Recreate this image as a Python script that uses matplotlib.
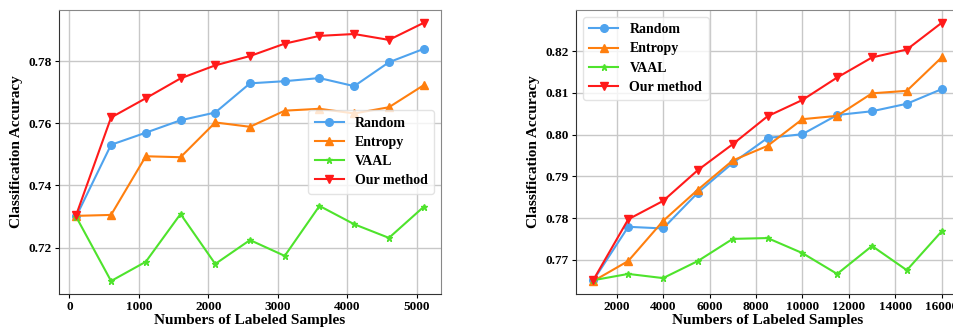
import numpy as np
import matplotlib
matplotlib.use('Agg')
import matplotlib.pyplot as plt

plt.rcParams['font.family'] = ['Liberation Serif', 'DejaVu Serif']
plt.rcParams['font.weight'] = 'bold'

# left chart data
x_left = [100, 600, 1100, 1600, 2100, 2600, 3100, 3600, 4100, 4600, 5100]
random_left = [0.7301, 0.7531, 0.7570, 0.7610, 0.7635, 0.7729, 0.7736, 0.7746, 0.7720, 0.7797, 0.7840]
entropy_left = [0.7302, 0.7305, 0.7494, 0.7491, 0.7603, 0.7589, 0.7641, 0.7647, 0.7632, 0.7652, 0.7723]
vaal_left = [0.7298, 0.7092, 0.7154, 0.7308, 0.7147, 0.7224, 0.7173, 0.7334, 0.7275, 0.7231, 0.7331]
ours_left = [0.7306, 0.7619, 0.7681, 0.7745, 0.7787, 0.7817, 0.7857, 0.7882, 0.7888, 0.7869, 0.7924]

# right chart data
x_right = [1000, 2500, 4000, 5500, 7000, 8500, 10000, 11500, 13000, 14500, 16000]
random_right = [0.7651, 0.7779, 0.7775, 0.7861, 0.7932, 0.7992, 0.8001, 0.8047, 0.8056, 0.8074, 0.8109]
entropy_right = [0.7649, 0.7697, 0.7793, 0.7868, 0.7938, 0.7973, 0.8037, 0.8045, 0.8099, 0.8105, 0.8185]
vaal_right = [0.7651, 0.7666, 0.7656, 0.7697, 0.7750, 0.7752, 0.7716, 0.7666, 0.7733, 0.7675, 0.7768]
ours_right = [0.7652, 0.7797, 0.7841, 0.7915, 0.7977, 0.8044, 0.8083, 0.8137, 0.8185, 0.8204, 0.8268]

labels = ['Random', 'Entropy', 'VAAL', 'Our method']
colors = ['#4fa3ee', '#ff7f0e', '#4ee32c', '#ff1a1a']
markers = ['o', '^', '*', 'v']
sizes = [5.5, 5.5, 5, 5.5]

fig = plt.figure(figsize=(9.54, 3.31), dpi=100)
ax1 = fig.add_axes([0.0618, 0.112, 0.4005, 0.858])
ax2 = fig.add_axes([0.6038, 0.112, 0.4015, 0.858])


def draw(ax, x, series, loc, xticks):
    for ys, lab, c, m, s in zip(series, labels, colors, markers, sizes):
        ax.plot(x, ys, color=c, marker=m, markersize=s, linewidth=1.5, label=lab)
    ax.grid(True, color='#c8c8c8', linewidth=1.0)
    ax.set_axisbelow(True)
    ax.set_xticks(xticks)
    ax.tick_params(labelsize=9.5, length=3, pad=2)
    for t in ax.get_xticklabels() + ax.get_yticklabels():
        t.set_fontweight('bold')
    ax.spines['left'].set_color('#333333')
    ax.spines['bottom'].set_color('#333333')
    ax.spines['top'].set_color('#888888')
    ax.spines['right'].set_color('#888888')
    ax.set_xlabel('Numbers of Labeled Samples', fontsize=11, fontweight='bold', labelpad=1)
    ax.set_ylabel('Classification Accuracy', fontsize=11, fontweight='bold', labelpad=4)
    ax.legend(loc=loc, prop={'size': 10, 'weight': 'bold'}, framealpha=0.8,
              edgecolor='#dddddd', handlelength=2.1, borderpad=0.45, labelspacing=0.45)


draw(ax1, x_left, [random_left, entropy_left, vaal_left, ours_left], 'center right',
     [0, 1000, 2000, 3000, 4000, 5000])
ax1.set_yticks([0.72, 0.74, 0.76, 0.78])
ax1.set_yticklabels(['0.72', '0.74', '0.76', '0.78'])

draw(ax2, x_right, [random_right, entropy_right, vaal_right, ours_right], 'upper left',
     [2000, 4000, 6000, 8000, 10000, 12000, 14000, 16000])
ax2.set_yticks([0.77, 0.78, 0.79, 0.80, 0.81, 0.82])
ax2.set_yticklabels(['0.77', '0.78', '0.79', '0.80', '0.81', '0.82'])

plt.savefig('out.png', dpi=100)
